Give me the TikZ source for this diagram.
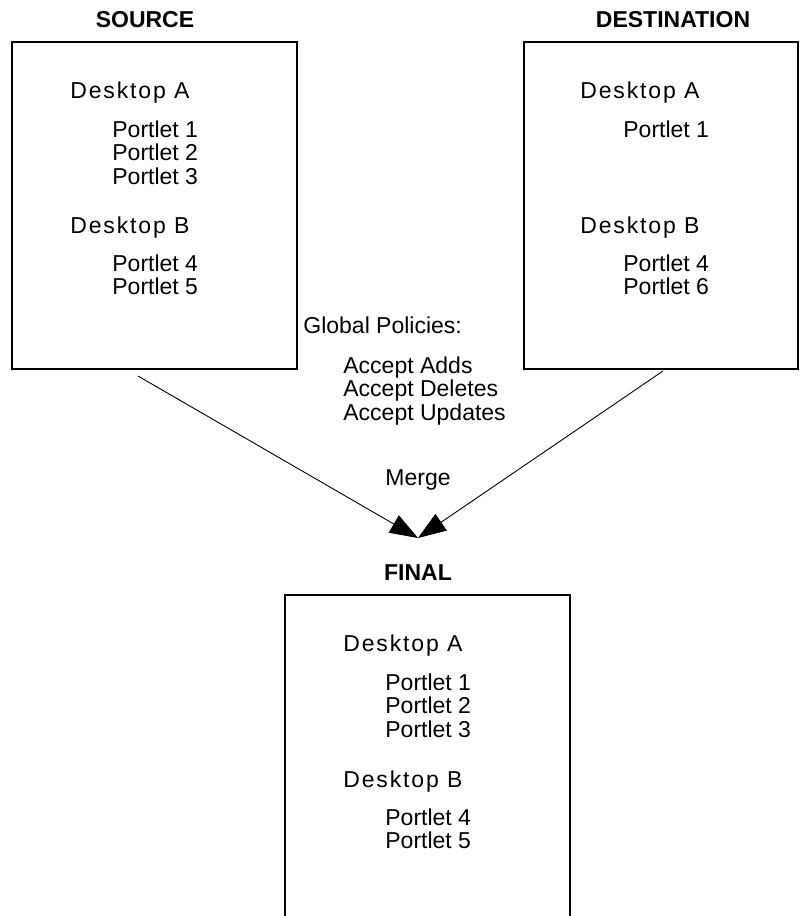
\documentclass[tikz,border=0pt]{standalone}
\usepackage{fontspec}
\setmainfont{Liberation Sans}
\newfontfamily\deskfont{Liberation Sans}[LetterSpace=8]
\usetikzlibrary{arrows.meta}

\begin{document}
\begin{tikzpicture}[
		x=0.5pt, y=-0.5pt,
		every node/.style={inner sep=0pt, font=\fontsize{11.5}{11.75}\selectfont},
		box/.style={draw, line width=0.8pt, anchor=north west},
		title/.style={anchor=base, font=\fontsize{11.5}{11.75}\selectfont\bfseries},
		desk/.style={anchor=base west, font=\fontsize{11.5}{11.75}\selectfont\deskfont},
		items/.style={anchor=base west},
		to/.style={-{Triangle[length=14pt, width=10pt]}, line width=0.45pt}
		]
		
		\useasboundingbox (0,0) rectangle (799,916);
		\clip (0,0) rectangle (799,916);
		
		\node[title] (srctitle) at (145,27) {SOURCE};
		\node[title] (dsttitle) at (673,27) {DESTINATION};
		\node[title] (fintitle) at (418,580) {FINAL};
		
		\node[box, minimum width=142.5pt, minimum height=163.5pt] (src) at (11,41) {};
		\node[box, minimum width=137pt, minimum height=163.5pt] (dst) at (523,41) {};
		\node[box, minimum width=142.5pt, minimum height=172pt] (fin) at (284,594) {};
		
		\node[desk] (srcA) at (70,98) {Desktop A};
		\foreach \i/\y in {1/137,2/160.5,3/184}
			\node[items] (srcp\i) at (112,\y) {Portlet \i};
		\node[desk] (srcB) at (70,233) {Desktop B};
		\foreach \i/\y in {4/271,5/294.5}
			\node[items] (srcp\i) at (112,\y) {Portlet \i};
		
		\node[desk] (dstA) at (580,98) {Desktop A};
		\node[items] (dstp1) at (623,137) {Portlet 1};
		\node[desk] (dstB) at (580,233) {Desktop B};
		\foreach \i/\y in {4/271,6/294.5}
			\node[items] (dstp\i) at (623,\y) {Portlet \i};
		
		\node[desk] (finA) at (343,651) {Desktop A};
		\foreach \i/\y in {1/690,2/713.5,3/737}
			\node[items] (finp\i) at (385,\y) {Portlet \i};
		\node[desk] (finB) at (343,787) {Desktop B};
		\foreach \i/\y in {4/825,5/848.5}
			\node[items] (finp\i) at (385,\y) {Portlet \i};
		
		\node[items] (policy) at (303,333) {Global Policies:};
		\foreach \n/\t/\y in {add/Adds/373,del/Deletes/396.5,upd/Updates/420}
			\node[items] (\n) at (343,\y) {Accept \t};
		\node[anchor=base] (merge) at (418,485) {Merge};
		
		\coordinate (srcout) at (138,376);
		\coordinate (dstout) at (663,371);
		\coordinate (mergein) at (418,538);
		
		\draw[to] (srcout) -- (mergein);
		\draw[to] (dstout) -- (mergein);
		
\end{tikzpicture}
\end{document}
